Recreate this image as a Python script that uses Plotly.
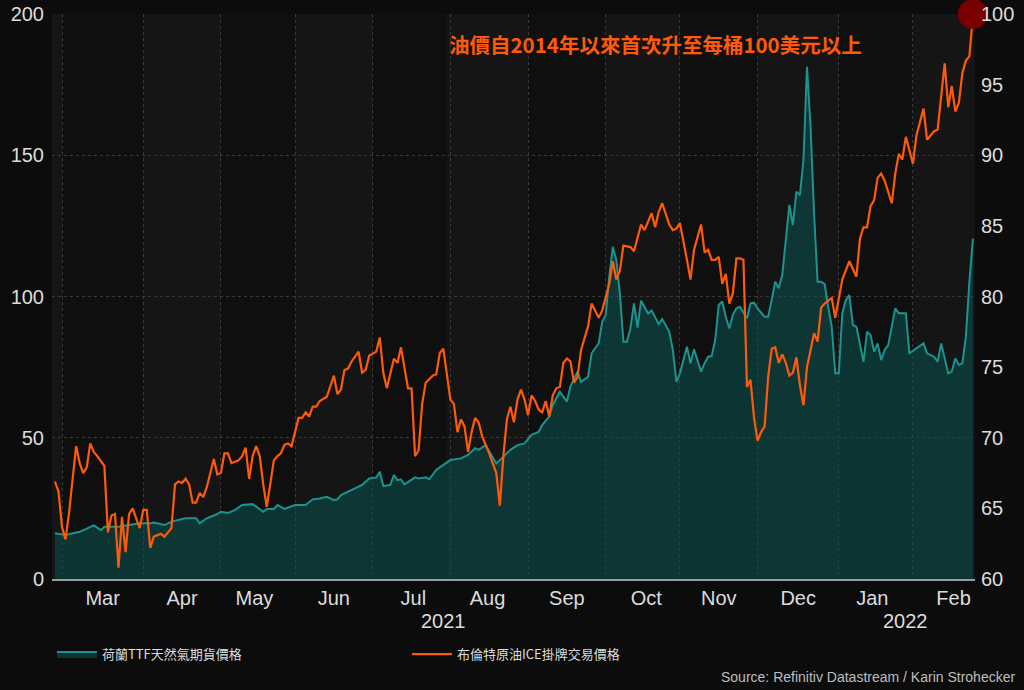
import plotly.graph_objects as go

# ---- Data ----
brent_dates = [
    "2021-02-25","2021-02-26","2021-03-01","2021-03-02","2021-03-03","2021-03-05","2021-03-08","2021-03-09",
    "2021-03-10","2021-03-11","2021-03-12","2021-03-15","2021-03-17","2021-03-18","2021-03-19","2021-03-22",
    "2021-03-23","2021-03-24","2021-03-25","2021-03-26","2021-03-29","2021-03-31","2021-04-01","2021-04-02",
    "2021-04-05","2021-04-06","2021-04-08","2021-04-09","2021-04-13","2021-04-14","2021-04-15","2021-04-16",
    "2021-04-19","2021-04-20","2021-04-21","2021-04-22","2021-04-23","2021-04-26","2021-04-27","2021-04-29",
    "2021-04-30","2021-05-03","2021-05-04","2021-05-05","2021-05-06","2021-05-10","2021-05-11","2021-05-12",
    "2021-05-13","2021-05-14","2021-05-17","2021-05-18","2021-05-19","2021-05-20","2021-05-24","2021-05-25",
    "2021-05-26","2021-05-27","2021-05-28","2021-05-31","2021-06-02","2021-06-03","2021-06-04","2021-06-07",
    "2021-06-08","2021-06-09","2021-06-10","2021-06-14","2021-06-16","2021-06-17","2021-06-18","2021-06-21",
    "2021-06-22","2021-06-23","2021-06-25","2021-06-28","2021-06-29","2021-06-30","2021-07-02","2021-07-05",
    "2021-07-06","2021-07-07","2021-07-09","2021-07-12","2021-07-13","2021-07-15","2021-07-16","2021-07-19",
    "2021-07-20","2021-07-21","2021-07-22","2021-07-26","2021-07-27","2021-07-28","2021-07-29","2021-08-02",
    "2021-08-03","2021-08-04","2021-08-05","2021-08-06","2021-08-09","2021-08-10","2021-08-11","2021-08-12",
    "2021-08-13","2021-08-17","2021-08-19","2021-08-20","2021-08-23","2021-08-24","2021-08-25","2021-08-26",
    "2021-08-27","2021-08-30","2021-08-31","2021-09-01","2021-09-02","2021-09-03","2021-09-06","2021-09-07",
    "2021-09-08","2021-09-09","2021-09-10","2021-09-13","2021-09-14","2021-09-15","2021-09-16","2021-09-17",
    "2021-09-20","2021-09-21","2021-09-22","2021-09-24","2021-09-27","2021-09-28","2021-09-29","2021-09-30",
    "2021-10-04","2021-10-05","2021-10-06","2021-10-07","2021-10-08","2021-10-12","2021-10-13","2021-10-15",
    "2021-10-18","2021-10-20","2021-10-21","2021-10-22","2021-10-25","2021-10-27","2021-10-28","2021-10-29",
    "2021-11-01","2021-11-03","2021-11-04","2021-11-05","2021-11-09","2021-11-10","2021-11-11","2021-11-12",
    "2021-11-15","2021-11-16","2021-11-17","2021-11-18","2021-11-19","2021-11-22","2021-11-23","2021-11-24",
    "2021-11-25","2021-11-26","2021-11-29","2021-11-30","2021-12-01","2021-12-02","2021-12-03","2021-12-06",
    "2021-12-07","2021-12-08","2021-12-09","2021-12-10","2021-12-13","2021-12-14","2021-12-15","2021-12-16",
    "2021-12-17","2021-12-20","2021-12-21","2021-12-22","2021-12-23","2021-12-24","2021-12-27","2021-12-28",
    "2021-12-30","2021-12-31","2022-01-03","2022-01-04","2022-01-06","2022-01-10","2022-01-11","2022-01-12",
    "2022-01-13","2022-01-14","2022-01-17","2022-01-18","2022-01-19","2022-01-20","2022-01-24","2022-01-25",
    "2022-01-26","2022-01-27","2022-01-28","2022-02-01","2022-02-02","2022-02-04","2022-02-07","2022-02-09",
    "2022-02-10","2022-02-14","2022-02-15","2022-02-16","2022-02-17","2022-02-18","2022-02-21","2022-02-22",
    "2022-02-23","2022-02-24",
]
brent_values = [
    66.9,66.2,63.7,62.8,64.7,69.4,68.2,67.5,
    67.9,69.6,69.0,68.7,68.0,63.3,64.5,64.6,
    60.8,64.4,61.9,64.6,65.0,63.6,64.9,64.9,
    62.2,63.0,63.2,63.0,63.6,66.7,66.9,66.8,
    67.1,66.7,65.4,65.4,66.1,65.8,66.5,68.5,
    67.4,67.5,68.9,68.9,68.2,68.4,68.7,69.3,
    67.1,68.7,69.4,68.7,66.7,65.1,68.4,68.7,
    68.9,69.5,69.6,69.4,71.4,71.4,71.8,71.5,
    72.2,72.2,72.6,72.9,74.4,73.1,73.4,74.8,
    74.9,75.4,76.1,74.6,74.8,75.8,76.1,77.1,
    74.6,73.5,75.6,75.3,76.4,73.5,73.5,68.7,
    69.1,72.4,73.9,74.4,74.5,76.0,76.3,72.7,
    72.4,70.4,71.3,70.8,69.0,70.4,71.4,71.1,
    70.1,68.9,67.5,65.2,68.7,71.3,72.2,71.1,
    72.7,73.4,72.7,71.6,73.0,72.6,72.0,71.8,
    72.6,71.5,73.0,73.5,73.6,75.3,75.6,75.4,
    73.9,74.3,76.2,77.9,79.5,79.0,78.5,79.0,
    80.9,82.5,81.2,81.8,83.6,83.5,83.2,85.1,
    84.7,85.9,84.9,86.0,86.6,85.1,84.7,84.8,
    85.2,82.6,81.2,83.3,85.1,83.1,83.3,82.6,
    82.6,82.8,80.9,81.6,79.5,80.2,82.7,82.7,
    82.6,73.6,74.1,71.4,69.8,70.4,70.8,74.3,
    76.3,76.4,75.3,75.9,75.3,74.4,74.6,75.7,
    73.7,72.3,75.0,76.2,77.4,76.8,79.2,79.5,
    79.9,78.5,79.8,81.2,82.5,81.4,84.1,84.9,
    84.9,86.4,86.8,88.4,88.7,88.2,86.6,88.7,
    90.1,89.7,91.3,89.4,91.4,93.3,91.1,91.7,
    91.8,96.5,93.4,94.9,93.1,93.7,95.8,96.7,
    97.0,99.9,
]

ttf_dates = [
    "2021-02-25","2021-03-02","2021-03-08","2021-03-11","2021-03-12","2021-03-16","2021-03-17","2021-03-23",
    "2021-03-26","2021-03-31","2021-04-05","2021-04-06","2021-04-09","2021-04-13","2021-04-19","2021-04-22",
    "2021-04-23","2021-04-27","2021-04-30","2021-05-03","2021-05-05","2021-05-07","2021-05-11","2021-05-14",
    "2021-05-19","2021-05-20","2021-05-24","2021-05-25","2021-05-27","2021-06-01","2021-06-04","2021-06-08",
    "2021-06-10","2021-06-14","2021-06-16","2021-06-17","2021-06-18","2021-06-23","2021-06-28","2021-06-30",
    "2021-07-02","2021-07-05","2021-07-06","2021-07-08","2021-07-09","2021-07-12","2021-07-13","2021-07-14",
    "2021-07-19","2021-07-20","2021-07-22","2021-07-23","2021-07-27","2021-07-29","2021-08-02","2021-08-05",
    "2021-08-09","2021-08-11","2021-08-12","2021-08-16","2021-08-17","2021-08-19","2021-08-23","2021-08-25",
    "2021-08-27","2021-08-31","2021-09-02","2021-09-06","2021-09-07","2021-09-09","2021-09-10","2021-09-14",
    "2021-09-16","2021-09-17","2021-09-21","2021-09-22","2021-09-24","2021-09-27","2021-09-29","2021-09-30",
    "2021-10-01","2021-10-04","2021-10-05","2021-10-06","2021-10-07","2021-10-08","2021-10-11","2021-10-12",
    "2021-10-13","2021-10-14","2021-10-15","2021-10-19","2021-10-20","2021-10-22","2021-10-25","2021-10-27",
    "2021-10-28","2021-10-29","2021-11-01","2021-11-03","2021-11-04","2021-11-05","2021-11-09","2021-11-10",
    "2021-11-11","2021-11-12","2021-11-15","2021-11-16","2021-11-17","2021-11-18","2021-11-19","2021-11-22",
    "2021-11-23","2021-11-24","2021-11-26","2021-11-29","2021-11-30","2021-12-01","2021-12-03","2021-12-06",
    "2021-12-07","2021-12-08","2021-12-09","2021-12-10","2021-12-13","2021-12-14","2021-12-15","2021-12-16",
    "2021-12-17","2021-12-20","2021-12-21","2021-12-22","2021-12-23","2021-12-24","2021-12-27","2021-12-28",
    "2021-12-29","2021-12-30","2021-12-31","2022-01-03","2022-01-04","2022-01-05","2022-01-06","2022-01-07",
    "2022-01-10","2022-01-11","2022-01-12","2022-01-13","2022-01-14","2022-01-17","2022-01-18","2022-01-19",
    "2022-01-20","2022-01-21","2022-01-25","2022-01-26","2022-01-28","2022-01-31","2022-02-02","2022-02-04",
    "2022-02-07","2022-02-09","2022-02-10","2022-02-11","2022-02-15","2022-02-16","2022-02-17","2022-02-18",
    "2022-02-21","2022-02-22","2022-02-23","2022-02-24",
]
ttf_values = [
    16.2,15.6,16.7,18.5,19.0,17.3,18.5,18.5,
    19.1,19.7,19.7,20.0,19.1,20.3,21.5,21.5,
    19.7,21.5,23.0,23.8,23.4,24.4,26.2,26.5,
    23.8,24.8,24.8,26.2,24.8,26.2,26.2,28.2,
    28.5,29.1,27.9,28.2,29.7,31.5,33.3,35.6,
    35.9,38.0,32.9,33.3,36.8,35.0,35.3,33.5,
    36.0,35.6,36.0,35.3,38.6,40.4,42.1,42.7,
    43.9,46.3,45.7,47.4,45.1,40.9,43.3,45.7,
    47.4,48.0,51.0,52.1,54.5,57.5,61.6,66.3,
    62.8,68.1,73.4,69.8,71.6,79.9,83.4,91.1,
    93.5,107.0,117.6,112.9,101.1,84.0,84.0,88.7,
    97.6,89.0,98.5,94.0,95.0,90.2,92.0,87.5,
    81.1,69.8,72.8,82.2,76.4,81.3,73.4,76.4,
    78.7,78.9,84.6,97.0,98.2,92.8,88.7,93.5,
    95.8,96.4,92.3,97.6,97.8,95.8,92.8,92.8,
    98.8,105.2,102.9,107.6,120.0,132.4,125.3,137.1,
    135.9,148.3,181.3,160.1,129.4,105.2,105.2,104.4,
    96.4,89.3,72.8,72.8,94.1,98.8,100.5,89.9,
    89.3,82.8,76.9,87.5,86.4,80.5,83.4,77.5,
    81.1,82.8,95.8,94.1,94.1,79.9,81.7,83.4,
    79.9,78.7,76.9,83.4,72.8,73.4,78.1,75.8,
    76.4,85.8,105.2,120.5,
]

ttf_name = "荷蘭TTF天然氣期貨價格"
brent_name = "布倫特原油ICE掛牌交易價格"
headline = "油價自2014年以來首次升至每桶100美元以上"
source_text = "Source: Refinitiv Datastream / Karin Strohecker"
year_labels = [("2021-07-29", "2021"), ("2022-01-28", "2022")]
light_months = [("2021-02-24 04:00", "2021-03-01"), ("2021-04-01", "2021-05-01"),
                ("2021-06-01", "2021-07-01"), ("2021-08-01", "2021-09-01"),
                ("2021-10-01", "2021-11-01"), ("2021-12-01", "2022-01-01"),
                ("2022-02-01", "2022-02-24 14:00")]
x_range = ["2021-02-24 04:00", "2022-02-24 14:00"]

FONT = "Liberation Sans, Arial, Noto Sans CJK TC, sans-serif"
CJK = "Noto Sans CJK TC, Liberation Sans, sans-serif"
TEAL = "#1c938e"
ORANGE = "#ff5a0a"

fig = go.Figure()
fig.add_trace(go.Scatter(
    x=ttf_dates, y=ttf_values, name=ttf_name, mode="lines",
    line=dict(color=TEAL, width=2), fill="tozeroy",
    fillcolor="rgba(10,80,78,0.58)", yaxis="y",
))
fig.add_trace(go.Scatter(
    x=brent_dates, y=brent_values, name=brent_name, mode="lines",
    line=dict(color=ORANGE, width=2.2), yaxis="y2",
))
fig.add_trace(go.Scatter(
    x=[brent_dates[-1]], y=[100], mode="markers", showlegend=False,
    marker=dict(size=30, color="#7a0000"), yaxis="y2", cliponaxis=False,
))

shapes = [dict(type="rect", xref="x", yref="paper", x0=a, x1=b, y0=0, y1=1,
               fillcolor="#151515", line=dict(width=0), layer="below")
          for a, b in light_months]

annotations = [
    dict(text=headline, xref="paper", yref="paper", x=0.428, y=0.947,
         xanchor="left", yanchor="middle", showarrow=False,
         font=dict(family=CJK, size=20.5, color=ORANGE, weight="bold")),
    dict(text=source_text, xref="paper", yref="paper", x=1.046, y=-0.173,
         xanchor="right", yanchor="middle", showarrow=False,
         font=dict(family=FONT, size=14, color="#bdbdbd")),
]
for d, t in year_labels:
    annotations.append(dict(text=t, xref="x", yref="paper", x=d, y=-0.075,
                            xanchor="center", yanchor="middle", showarrow=False,
                            font=dict(family=FONT, size=20, color="#dcdcdc")))

fig.update_layout(
    width=1024, height=690,
    margin=dict(l=52, r=49, t=14, b=111, autoexpand=False),
    paper_bgcolor="#0c0c0c", plot_bgcolor="#0f0f0f",
    font=dict(family=FONT, color="#dcdcdc"),
    shapes=shapes, annotations=annotations,
    showlegend=True,
    legend=dict(orientation="h", x=0.0, y=-0.133, xanchor="left", yanchor="middle",
                entrywidth=300, entrywidthmode="pixels", itemwidth=40,
                font=dict(family=CJK, size=13, color="#dddddd"),
                bgcolor="rgba(0,0,0,0)"),
    xaxis=dict(
        type="date", range=x_range, automargin=False,
        rangebreaks=[dict(bounds=["sat", "mon"])],
        dtick="M1", tick0="2021-03-01", tickformat="%b", ticklabelmode="period",
        showgrid=True, gridcolor="#3a3a3a", griddash="dot", gridwidth=1,
        showline=True, linecolor="#9a9a9a", linewidth=2,
        ticks="", tickfont=dict(size=20, color="#dcdcdc"),
        zeroline=False,
    ),
    yaxis=dict(
        range=[0, 200], tickvals=[0, 50, 100, 150, 200], automargin=False,
        showgrid=True, gridcolor="#3a3a3a", griddash="dot", gridwidth=1,
        zeroline=False, showline=False, ticks="", ticklabelstandoff=7,
        tickfont=dict(size=20, color="#dcdcdc"),
    ),
    yaxis2=dict(
        range=[60, 100], tickvals=[60, 65, 70, 75, 80, 85, 90, 95, 100],
        overlaying="y", side="right", showgrid=False, zeroline=False, automargin=False,
        showline=False, ticks="", ticklabelstandoff=5,
        tickfont=dict(size=20, color="#dcdcdc"),
    ),
)

fig.write_html("out.html")
